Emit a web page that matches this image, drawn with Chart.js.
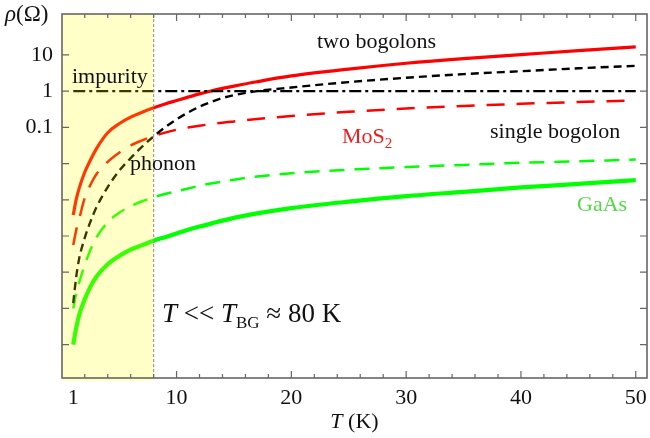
<!DOCTYPE html>
<html>
<head>
<meta charset="utf-8">
<script src="https://cdn.jsdelivr.net/npm/chart.js@4.4.1/dist/chart.umd.min.js"></script>
<style>
  html, body { margin: 0; padding: 0; background: #fff; }
</style>
</head>
<body>
<canvas id="chart" width="650" height="438"></canvas>
<script>
const temps = [1, 1.25, 1.5, 2, 2.5, 3, 4, 5, 6, 7, 8, 9, 10, 11, 12, 13, 14, 15, 17, 20, 25, 30, 35, 40, 45, 50];

// resistivity rho (Ohm)
const mos2Two    = [3.8e-4, 1.0e-3, 2.0e-3, 5.75e-3, 0.0126, 0.0251, 0.0708, 0.126, 0.191, 0.263, 0.347, 0.442, 0.55, 0.684, 0.841, 1.01, 1.19, 1.38, 1.82, 2.63, 4.07, 5.89, 7.94, 10.2, 13.2, 16.6];
const mos2Single = [5.6e-5, 1.41e-4, 2.8e-4, 1.12e-3, 2.6e-3, 5.0e-3, 0.0112, 0.02, 0.0316, 0.0437, 0.0575, 0.0716, 0.0861, 0.0989, 0.111, 0.123, 0.135, 0.146, 0.17, 0.207, 0.269, 0.331, 0.389, 0.447, 0.501, 0.556];
const phonon     = [1.41e-6, 7.1e-6, 2.24e-5, 8.9e-5, 2.5e-4, 6.0e-4, 2.24e-3, 6.3e-3, 0.0141, 0.0295, 0.0562, 0.1, 0.166, 0.257, 0.372, 0.501, 0.646, 0.776, 1.0, 1.26, 1.78, 2.34, 2.95, 3.55, 4.27, 5.01];
const gaasSingle = [1.0e-6, 2.5e-6, 5.0e-6, 1.58e-5, 4.2e-5, 8.9e-5, 2.4e-4, 4.4e-4, 6.6e-4, 9.1e-4, 1.17e-3, 1.45e-3, 1.72e-3, 2.04e-3, 2.45e-3, 2.82e-3, 3.2e-3, 3.6e-3, 4.4e-3, 5.4e-3, 6.8e-3, 8.0e-3, 9.2e-3, 0.0105, 0.0116, 0.0129];
const gaasTwo    = [1.0e-7, 2.8e-7, 6.3e-7, 1.78e-6, 4.0e-6, 7.4e-6, 1.66e-5, 2.8e-5, 4.2e-5, 5.6e-5, 7.4e-5, 9.3e-5, 1.17e-4, 1.48e-4, 1.82e-4, 2.2e-4, 2.66e-4, 3.16e-4, 4.2e-4, 5.9e-4, 8.9e-4, 1.26e-3, 1.66e-3, 2.19e-3, 2.75e-3, 3.5e-3];
const impurity   = [1, 1, 1, 1, 1, 1, 1, 1, 1, 1, 1, 1, 1, 1, 1, 1, 1, 1, 1, 1, 1, 1, 1, 1, 1, 1];

// axes
const xTickLabels = [1, 10, 20, 30, 40, 50];
const xMajorTicks = [10, 20, 30, 40, 50];
const xMinorTicks = [2, 4, 6, 8, 12, 14, 16, 18, 22, 24, 26, 28, 32, 34, 36, 38, 42, 44, 46, 48];
const yTickLabels = [0.1, 1, 10];
const yDecadeTicks = [1e-7, 1e-6, 1e-5, 1e-4, 1e-3, 1e-2, 0.1, 1, 10];
const shadeEnd = 8; // T << T_BG region

const serif = "'Liberation Serif', 'DejaVu Serif', serif";
Chart.defaults.font.family = serif;

function pts(arr) {
  return temps.map((t, i) => ({ x: t, y: arr[i] }));
}

function line(data, color, width, dash) {
  return {
    data: pts(data),
    borderColor: color,
    borderWidth: width,
    borderDash: dash,
    pointRadius: 0,
    fill: false,
    cubicInterpolationMode: 'monotone'
  };
}

// draws a run of text pieces, each with its own font / colour / vertical shift
function drawRuns(ctx, x, y, runs) {
  let cx = x;
  runs.forEach(r => {
    ctx.font = r.font;
    ctx.fillStyle = r.color || '#111';
    ctx.fillText(r.text, cx, y + (r.dy || 0));
    cx += ctx.measureText(r.text).width;
  });
}

// no automatic room for edge labels, the frame is placed by hand
function noPad(s) {
  s.paddingLeft = s.paddingRight = s.paddingTop = s.paddingBottom = 0;
}

const decor = {
  id: 'decor',
  afterDatasetsDraw(chart) {
    const { ctx, chartArea: a, scales: { x, y } } = chart;
    ctx.save();

    // yellow low-temperature band, drawn on top of the curves
    const x8 = x.getPixelForValue(shadeEnd);
    ctx.fillStyle = 'rgba(255,255,0,0.22)';
    ctx.fillRect(a.left, a.top, x8 - a.left, a.bottom - a.top + 3);

    ctx.strokeStyle = '#9c9c9c';
    ctx.lineWidth = 1.2;
    ctx.setLineDash([3, 2]);
    ctx.beginPath();
    ctx.moveTo(x8, a.top);
    ctx.lineTo(x8, a.bottom);
    ctx.stroke();
    ctx.setLineDash([]);

    // frame
    ctx.strokeStyle = '#666';
    ctx.lineWidth = 1.6;
    ctx.strokeRect(a.left, a.top, a.right - a.left, a.bottom - a.top);

    // inward ticks
    ctx.lineWidth = 1.2;
    ctx.beginPath();
    xMajorTicks.forEach(v => {
      const px = x.getPixelForValue(v);
      ctx.moveTo(px, a.bottom); ctx.lineTo(px, a.bottom - 7);
      ctx.moveTo(px, a.top); ctx.lineTo(px, a.top + 7);
    });
    xMinorTicks.forEach(v => {
      const px = x.getPixelForValue(v);
      ctx.moveTo(px, a.bottom); ctx.lineTo(px, a.bottom - 4);
      ctx.moveTo(px, a.top); ctx.lineTo(px, a.top + 4);
    });
    yDecadeTicks.forEach(v => {
      const py = y.getPixelForValue(v);
      ctx.moveTo(a.left, py); ctx.lineTo(a.left + 7, py);
      ctx.moveTo(a.right, py); ctx.lineTo(a.right - 7, py);
    });
    ctx.stroke();

    // labels
    ctx.textAlign = 'left';
    ctx.textBaseline = 'alphabetic';
    const f22 = '22px ' + serif;
    drawRuns(ctx, 5, 21, [
      { text: 'ρ', font: 'italic 23px ' + serif },
      { text: '(Ω)', font: '23px ' + serif }
    ]);
    drawRuns(ctx, 72, 83, [{ text: 'impurity', font: f22 }]);
    drawRuns(ctx, 317, 48, [{ text: 'two bogolons', font: f22 }]);
    drawRuns(ctx, 342, 143, [
      { text: 'MoS', font: f22, color: '#ee1c1c' },
      { text: '2', font: '15px ' + serif, color: '#ee1c1c', dy: 5 }
    ]);
    drawRuns(ctx, 130, 170, [{ text: 'phonon', font: f22 }]);
    drawRuns(ctx, 490, 138, [{ text: 'single bogolon', font: f22 }]);
    drawRuns(ctx, 577, 211, [{ text: 'GaAs', font: f22, color: '#55d845' }]);
    drawRuns(ctx, 162, 322, [
      { text: 'T', font: 'italic 27px ' + serif },
      { text: ' << ', font: '27px ' + serif },
      { text: 'T', font: 'italic 27px ' + serif },
      { text: 'BG', font: '17px ' + serif, dy: 6 },
      { text: ' ≈ 80 K', font: '27px ' + serif }
    ]);

    // x axis title
    ctx.font = 'italic 22px ' + serif;
    const wT = ctx.measureText('T').width;
    ctx.font = f22;
    const wK = ctx.measureText(' (K)').width;
    const cx = (a.left + a.right) / 2 - (wT + wK) / 2;
    drawRuns(ctx, cx, 428, [
      { text: 'T', font: 'italic 22px ' + serif },
      { text: ' (K)', font: f22 }
    ]);

    ctx.restore();
  }
};

new Chart(document.getElementById('chart'), {
  type: 'line',
  data: {
    datasets: [
      line(impurity, '#000', 2.4, [12, 4, 3, 4]),
      line(phonon, '#000', 2.4, [8, 5]),
      line(gaasTwo, '#00ff00', 4.2, []),
      line(gaasSingle, '#00ff00', 2.5, [15, 10]),
      line(mos2Single, '#ff0000', 2.5, [18, 12]),
      line(mos2Two, '#ff0000', 3.2, [])
    ]
  },
  options: {
    responsive: false,
    animation: false,
    devicePixelRatio: 1,
    layout: { padding: { top: 14, right: 3, left: 0, bottom: 0 } },
    plugins: { legend: { display: false }, tooltip: { enabled: false } },
    scales: {
      x: {
        type: 'linear',
        min: 0.02,
        max: 50.98,
        afterBuildTicks: s => { s.ticks = xTickLabels.map(v => ({ value: v })); },
        afterFit: s => { s.height = 60; noPad(s); },
        grid: { display: false, drawTicks: false },
        border: { display: false },
        ticks: {
          autoSkip: false,
          maxRotation: 0,
          padding: 7,
          color: '#111',
          font: { size: 22, family: serif },
          callback: v => String(v)
        }
      },
      y: {
        type: 'logarithmic',
        min: 1.2e-8,
        max: 135,
        afterBuildTicks: s => { s.ticks = yTickLabels.map(v => ({ value: v })); },
        afterFit: s => { s.width = 62; noPad(s); },
        grid: { display: false, drawTicks: false },
        border: { display: false },
        ticks: {
          autoSkip: false,
          padding: 9,
          color: '#111',
          font: { size: 22, family: serif },
          callback: v => String(v)
        }
      }
    }
  },
  plugins: [decor]
});
</script>
</body>
</html>
